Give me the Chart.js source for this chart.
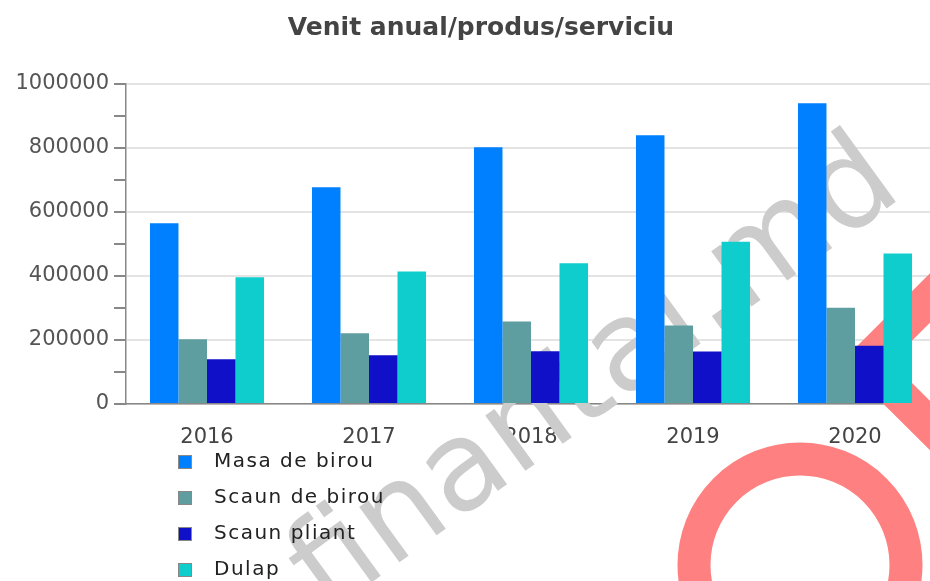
<!DOCTYPE html>
<html>
<head>
<meta charset="utf-8">
<title>Venit anual/produs/serviciu</title>
<script src="https://cdn.jsdelivr.net/npm/chart.js@4/dist/chart.umd.min.js"></script>
<style>
	html, body { margin: 0; padding: 0; background: #fff; overflow: hidden; }
	#wrap { width: 962px; height: 581px; }
</style>
</head>
<body>
<div id="wrap"><canvas id="chart" width="962" height="581"></canvas></div>
<script>
// date
var years = ['2016', '2017', '2018', '2019', '2020'];
var masaDeBirou = [565000, 677000, 802000, 840000, 940000];
var scaunDeBirou = [202000, 221000, 258000, 245000, 301000];
var scaunPliant = [140000, 152000, 165000, 164000, 182000];
var dulap = [396000, 414000, 440000, 507000, 470000];
var seriesNames = ['Masa de birou', 'Scaun de birou', 'Scaun pliant', 'Dulap'];
var seriesColors = ['#0080ff', '#5f9ea0', '#1010c8', '#10cdcd'];
var watermarkText = 'finantal.md';

var font = 'DejaVu Sans';

// legenda verticala sub axa X
var verticalLegend = {
	id: 'verticalLegend',
	afterDraw: function(chart, args, opts){
		var ctx = chart.ctx;
		ctx.save();
		ctx.font = opts.size + 'px "' + font + '"';
		ctx.letterSpacing = '1.5px';
		ctx.textBaseline = 'middle';
		ctx.textAlign = 'left';
		chart.data.datasets.forEach(function(ds, i){
			var y = opts.top + i * opts.rowHeight;
			ctx.fillStyle = ds.backgroundColor;
			ctx.fillRect(opts.left, y - 7, 14, 14);
			ctx.strokeStyle = '#888';
			ctx.lineWidth = 1;
			ctx.strokeRect(opts.left + 0.5, y - 6.5, 13, 13);
			ctx.fillStyle = '#222';
			ctx.fillText(ds.label, opts.left + 36, y);
		});
		ctx.restore();
	}
};

// watermark-ul din imagine (text gri + sigla rosie), sub bare
var watermark = {
	id: 'watermark',
	beforeDatasetsDraw: function(chart){
		var ctx = chart.ctx;
		ctx.save();
		// sigla rosie
		ctx.strokeStyle = '#ff8080';
		ctx.lineWidth = 35;
		ctx.lineJoin = 'miter';
		ctx.beginPath();
		ctx.moveTo(1010, 218);
		ctx.lineTo(866, 362);
		ctx.lineTo(1010, 505);
		ctx.stroke();
		ctx.lineWidth = 33;
		ctx.beginPath();
		ctx.arc(800, 565, 106, 0, Math.PI * 2);
		ctx.stroke();
		// text
		ctx.translate(905, 195);
		ctx.rotate(-36 * Math.PI / 180);
		ctx.font = '125px "' + font + '"';
		ctx.fillStyle = '#cccccc';
		ctx.textAlign = 'right';
		ctx.textBaseline = 'alphabetic';
		ctx.fillText(watermarkText, 0, 0);
		ctx.restore();
	}
};

var datasets = [masaDeBirou, scaunDeBirou, scaunPliant, dulap].map(function(values, i){
	return {
		label: seriesNames[i],
		data: values,
		backgroundColor: seriesColors[i],
		borderWidth: 0,
		categoryPercentage: 0.704,
		barPercentage: 1
	};
});

var chart = new Chart(document.getElementById('chart'), {
	type: 'bar',
	data: { labels: years, datasets: datasets },
	plugins: [watermark, verticalLegend],
	options: {
		responsive: false,
		animation: false,
		layout: { padding: 0 },
		plugins: {
			legend: { display: false },
			tooltip: { enabled: false },
			title: {
				display: true,
				text: 'Venit anual/produs/serviciu',
				color: '#444',
				font: { family: font, size: 25, weight: 'bold' },
				padding: { top: 13, bottom: 41 }
			},
			verticalLegend: { left: 178, top: 462, rowHeight: 36, size: 20 }
		},
		scales: {
			x: {
				grid: { display: false },
				border: { display: true, color: '#888', width: 1.5 },
				ticks: { color: '#444', padding: 13, font: { family: font, size: 21 } },
				afterFit: function(s){ s.height = 177; }
			},
			y: {
				min: 0,
				max: 1000000,
				border: { display: true, color: '#888', width: 1.5 },
				grid: {
					color: function(c){ return c.tick && c.tick.value % 200000 === 0 ? '#e4e4e4' : 'rgba(0,0,0,0)'; },
					tickColor: '#888',
					tickLength: 12,
					lineWidth: 2
				},
				ticks: {
					stepSize: 100000,
					autoSkip: false,
					color: '#555',
					padding: 5,
					font: { family: font, size: 21 },
					callback: function(v){ return v % 200000 === 0 ? String(v) : ''; }
				},
				afterFit: function(s){ s.width = 126; }
			},
			// axa goala din dreapta, doar ca spatiu (graficul e taiat la margine)
			right: {
				type: 'linear',
				position: 'right',
				display: true,
				grid: { display: false },
				border: { display: false },
				ticks: { display: false },
				afterFit: function(s){ s.width = 26; }
			}
		}
	}
});
</script>
</body>
</html>
